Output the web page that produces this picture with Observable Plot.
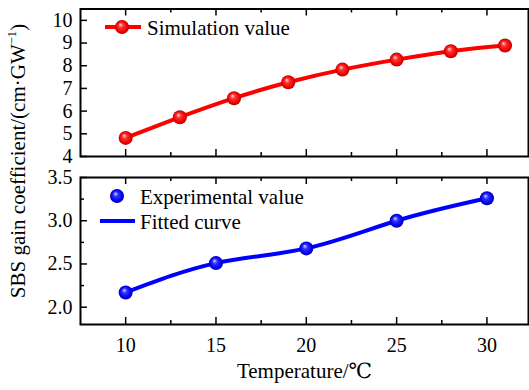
<!DOCTYPE html>
<html>
<head>
<meta charset="utf-8">
<script src="https://cdn.jsdelivr.net/npm/d3@7"></script>
<script src="https://cdn.jsdelivr.net/npm/@observablehq/plot@0.6"></script>
<style>
  html, body { margin: 0; padding: 0; background: #fff; }
  #wrap { position: relative; width: 529px; height: 390px; overflow: hidden; background: #fff; }
  #wrap svg.plotpanel { position: absolute; left: 0; }
  #wrap svg.plotpanel text { font-family: "Liberation Serif", "Times New Roman", "DejaVu Serif", serif; }
  #ytitle {
    position: absolute; left: 18px; top: 161px;
    transform: translate(-50%, -50%) rotate(-90deg);
    white-space: nowrap;
    font-family: "Liberation Serif", "Times New Roman", serif;
    font-size: 21px; color: #000;
  }
  #ytitle sup { font-size: 0.6em; vertical-align: 0.7em; line-height: 0; }
</style>
</head>
<body>
<svg width="0" height="0" style="position:absolute">
  <defs>
    <radialGradient id="redBall" cx="0.5" cy="0.5" r="0.5" fx="0.38" fy="0.32">
      <stop offset="0" stop-color="#ffe0e0"/>
      <stop offset="0.35" stop-color="#ff3030"/>
      <stop offset="0.8" stop-color="#ee0000"/>
      <stop offset="1" stop-color="#b00000"/>
    </radialGradient>
    <radialGradient id="blueBall" cx="0.5" cy="0.5" r="0.5" fx="0.38" fy="0.32">
      <stop offset="0" stop-color="#d8d8ff"/>
      <stop offset="0.35" stop-color="#3030ff"/>
      <stop offset="0.8" stop-color="#0000ee"/>
      <stop offset="1" stop-color="#0000a8"/>
    </radialGradient>
  </defs>
</svg>
<div id="wrap">
  <div id="ytitle">SBS gain coefficient/(cm·GW<sup>−1</sup>)</div>
</div>
<script>
// ---- data ----
const simTemp = [10, 13, 16, 19, 22, 25, 28, 31];
const simGain = [4.82, 5.73, 6.57, 7.27, 7.83, 8.27, 8.64, 8.89];
const expTemp = [10, 15, 20, 25, 30];
const expGain = [2.17, 2.51, 2.68, 3.00, 3.26];
const topYTicks = [4, 5, 6, 7, 8, 9, 10];
const botYTicks = [2.0, 2.5, 3.0, 3.5];
const botYMinor = [2.25, 2.75, 3.25];
const xMajor = [10, 15, 20, 25, 30];
const xMinor = [12.5, 17.5, 22.5, 27.5];
const seriesNames = ["Simulation value", "Experimental value", "Fitted curve"];
const xTitle = "Temperature/℃";

const simData = simTemp.map((t, i) => ({t, g: simGain[i]}));
const expData = expTemp.map((t, i) => ({t, g: expGain[i]}));

const FONT = '"Liberation Serif", "Times New Roman", "DejaVu Serif", serif';
const STYLE = `font-family: ${FONT}; font-size: 20px; background: transparent; color: #000; overflow: visible;`;
const W = 529, ML = 80, MR = 1;
const innerW = W - ML - MR;
const xDomain = [7.5, 32.3];

function xTicks(innerH) {
  return [
    Plot.tickX(xMajor, {x: d => d, insetBottom: innerH - 7, strokeWidth: 1.5}),
    Plot.tickX(xMajor, {x: d => d, insetTop: innerH - 7, strokeWidth: 1.5}),
    Plot.tickX(xMinor, {x: d => d, insetBottom: innerH - 4, strokeWidth: 1.5}),
    Plot.tickX(xMinor, {x: d => d, insetTop: innerH - 4, strokeWidth: 1.5})
  ];
}

// ---- top panel ----
const H1 = 165, MT1 = 8.5, MB1 = 9;
const inner1 = H1 - MT1 - MB1;
const topPanel = Plot.plot({
  width: W, height: H1, marginTop: MT1, marginBottom: MB1, marginLeft: ML, marginRight: MR,
  x: {domain: xDomain, axis: null},
  y: {domain: [4, 10.5]},
  style: STYLE,
  marks: [
    Plot.axisY(topYTicks, {anchor: "left", tickSize: 0, tickPadding: 8, label: null, fontFamily: FONT, fontSize: 20}),
    Plot.tickY(topYTicks, {y: d => d, insetRight: innerW - 7, strokeWidth: 1.5}),
    ...xTicks(inner1),
    Plot.line(simData, {x: "t", y: "g", stroke: "#ff0000", strokeWidth: 4, curve: "natural"}),
    Plot.dot(simData, {x: "t", y: "g", r: 7, fill: "url(#redBall)"}),
    Plot.frame({strokeWidth: 2})
  ]
});
topPanel.classList.add("plotpanel");
topPanel.style.top = "0px";

// ---- bottom panel ----
const H2 = 225, MT2 = 12, MB2 = 66;
const inner2 = H2 - MT2 - MB2;
const botPanel = Plot.plot({
  width: W, height: H2, marginTop: MT2, marginBottom: MB2, marginLeft: ML, marginRight: MR,
  x: {domain: xDomain},
  y: {domain: [1.8, 3.5]},
  style: STYLE,
  marks: [
    Plot.axisY(botYTicks, {anchor: "left", tickSize: 0, tickPadding: 8, label: null, tickFormat: d3.format(".1f"), fontFamily: FONT, fontSize: 20}),
    Plot.axisX(xMajor, {anchor: "bottom", tickSize: 0, tickPadding: 13, label: null, fontFamily: FONT, fontSize: 20}),
    Plot.tickY(botYTicks, {y: d => d, insetRight: innerW - 7, strokeWidth: 1.5}),
    Plot.tickY(botYMinor, {y: d => d, insetRight: innerW - 4, strokeWidth: 1.5}),
    ...xTicks(inner2),
    Plot.line(expData, {x: "t", y: "g", stroke: "#0000ff", strokeWidth: 4, curve: "natural"}),
    Plot.dot(expData, {x: "t", y: "g", r: 7, fill: "url(#blueBall)"}),
    Plot.text([xTitle], {text: d => d, frameAnchor: "bottom", dy: 53, fontSize: 21, fontFamily: FONT}),
    Plot.frame({strokeWidth: 2})
  ]
});
botPanel.classList.add("plotpanel");
botPanel.style.top = H1 + "px";

// ---- legends ----
const g1 = d3.select(topPanel).append("g").attr("font-family", FONT).attr("font-size", 21).attr("text-anchor", "start");
g1.append("line").attr("x1", 105).attr("x2", 141).attr("y1", 27).attr("y2", 27)
  .attr("stroke", "#ff0000").attr("stroke-width", 4);
g1.append("circle").attr("cx", 122).attr("cy", 27).attr("r", 7).attr("fill", "url(#redBall)");
g1.append("text").attr("x", 147).attr("y", 34.5).attr("fill", "#000").text(seriesNames[0]);

const g2 = d3.select(botPanel).append("g").attr("font-family", FONT).attr("font-size", 21).attr("text-anchor", "start");
g2.append("circle").attr("cx", 117).attr("cy", 31).attr("r", 7).attr("fill", "url(#blueBall)");
g2.append("text").attr("x", 140).attr("y", 39).attr("fill", "#000").text(seriesNames[1]);
g2.append("line").attr("x1", 100).attr("x2", 135).attr("y1", 56).attr("y2", 56)
  .attr("stroke", "#0000ff").attr("stroke-width", 4);
g2.append("text").attr("x", 140).attr("y", 64).attr("fill", "#000").text(seriesNames[2]);

const wrap = document.getElementById("wrap");
wrap.appendChild(topPanel);
wrap.appendChild(botPanel);
</script>
</body>
</html>
